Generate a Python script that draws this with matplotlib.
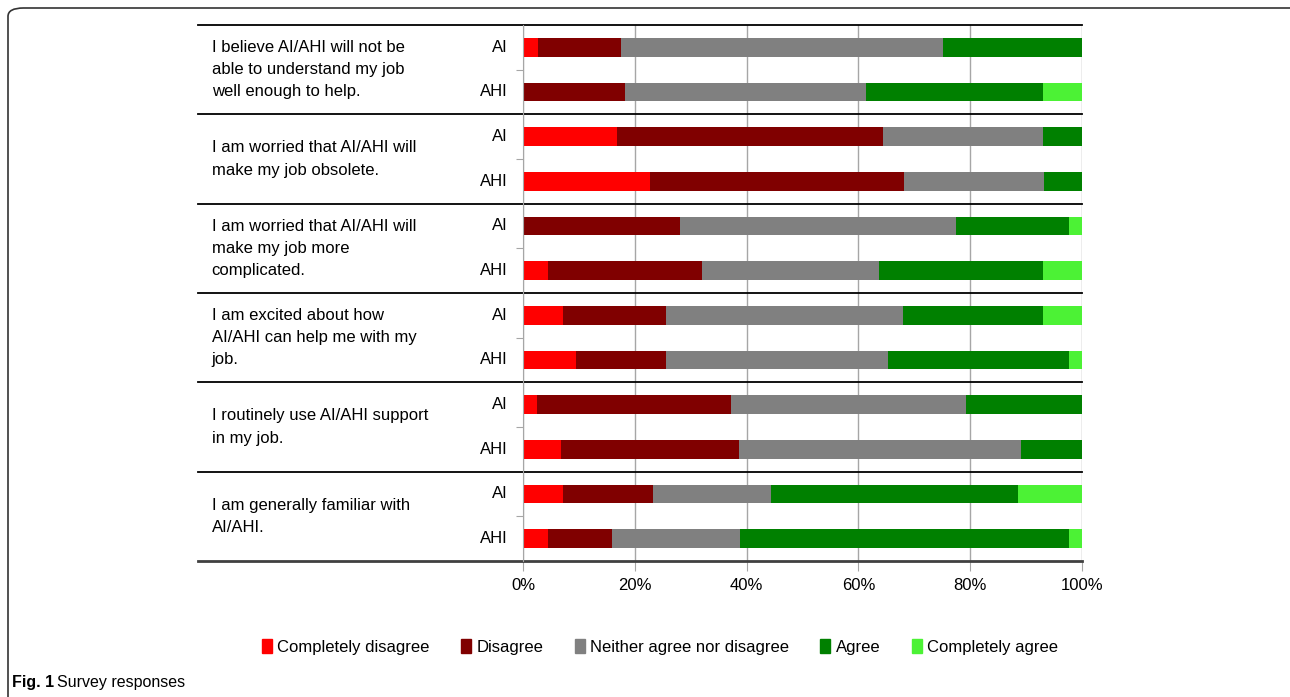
import numpy as np
import matplotlib.pyplot as plt
from matplotlib.patches import FancyBboxPatch, Patch

questions = [
    "I believe AI/AHI will not be\nable to understand my job\nwell enough to help.",
    "I am worried that AI/AHI will\nmake my job obsolete.",
    "I am worried that AI/AHI will\nmake my job more\ncomplicated.",
    "I am excited about how\nAI/AHI can help me with my\njob.",
    "I routinely use AI/AHI support\nin my job.",
    "I am generally familiar with\nAI/AHI.",
]
groups = ["AI", "AHI"]
responses = ["Completely disagree", "Disagree", "Neither agree nor disagree",
             "Agree", "Completely agree"]

# percent per response, rows ordered Q1 AI, Q1 AHI, Q2 AI, ...
completely_disagree = [2.7, 0.0, 16.8, 22.7, 0.0, 4.5, 7.2, 9.5, 2.5, 6.8, 7.2, 4.5]
disagree = [14.8, 18.2, 47.6, 45.5, 28.1, 27.5, 18.4, 16.1, 34.7, 31.8, 16.1, 11.4]
neither = [57.6, 43.2, 28.6, 25.0, 49.4, 31.7, 42.4, 39.7, 42.0, 50.5, 21.1, 22.9]
agree = [24.9, 31.6, 7.0, 6.8, 20.2, 29.3, 25.0, 32.4, 20.8, 10.9, 44.2, 58.9]
completely_agree = [0.0, 7.0, 0.0, 0.0, 2.3, 7.0, 7.0, 2.3, 0.0, 0.0, 11.4, 2.3]

colors = ["#ff0000", "#800000", "#808080", "#008000", "#4cf235"]
font = "Liberation Sans"

fig = plt.figure(figsize=(12.9, 6.97), dpi=100)
ax = fig.add_axes([523 / 1290, 1 - 561 / 697, 559 / 1290, 536 / 697])

series = [completely_disagree, disagree, neither, agree, completely_agree]
n = len(completely_disagree)
ypos = np.arange(n) + 0.5
left = np.zeros(n)
for vals, c, lab in zip(series, colors, responses):
    vals = np.array(vals)
    ax.barh(ypos, vals, left=left, height=0.42, color=c, label=lab)
    left += vals

ax.set_xlim(0, 100)
ax.set_ylim(n, 0)
ax.set_xticks(np.arange(0, 101, 20))
ax.set_xticklabels([f"{v}%" for v in range(0, 101, 20)], fontsize=12, family=font)
ax.xaxis.grid(True, color="#a6a6a6", linewidth=1)
ax.set_axisbelow(True)
ax.set_yticks(np.arange(1, n, 2))
ax.set_yticklabels([])
ax.tick_params(axis="y", length=5, color="#a6a6a6")
ax.tick_params(axis="x", length=7, color="#a6a6a6", pad=5)
for s in ["top", "right", "bottom"]:
    ax.spines[s].set_visible(False)
ax.spines["left"].set_color("#a6a6a6")

# group separators
tr = ax.get_yaxis_transform()
for k in range(0, n + 1, 2):
    col = "#404040" if k == n else "black"
    lw = 2 if k == n else 1.3
    ax.plot([-0.581, 1.0], [k, k], color=col, lw=lw, transform=tr, clip_on=False)

# labels
for i in range(n):
    ax.text(-0.027, i + 0.5, groups[i % 2], transform=tr, ha="right", va="center",
            fontsize=12, family=font)
for q, text in enumerate(questions):
    ax.text(-0.557, 2 * q + 1, text, transform=tr, ha="left", va="center",
            fontsize=12, family=font, linespacing=1.6)

handles = [Patch(color=c, label=l) for c, l in zip(colors, responses)]
fig.legend(handles=handles, loc="center", bbox_to_anchor=(660 / 1290, 1 - 647 / 697),
           ncol=5, frameon=False, handlelength=0.6, handleheight=0.9,
           handletextpad=0.3, columnspacing=1.9, prop={"family": font, "size": 12})

# outer frame and caption
frame = FancyBboxPatch((8 / 1290, -0.05), 1.2, 1 - 8 / 697 + 0.05,
                       boxstyle="round,pad=0,rounding_size=0.012",
                       transform=fig.transFigure, fill=False, ec="#333333", lw=1.2)
fig.patches.append(frame)
fig.text(12 / 1290, 1 - 683 / 697, "Fig. 1", fontsize=11.5, fontweight="bold",
         family=font, va="center")
fig.text(57 / 1290, 1 - 683 / 697, "Survey responses", fontsize=11.5,
         family=font, va="center")

fig.savefig("out.png", dpi=100)
